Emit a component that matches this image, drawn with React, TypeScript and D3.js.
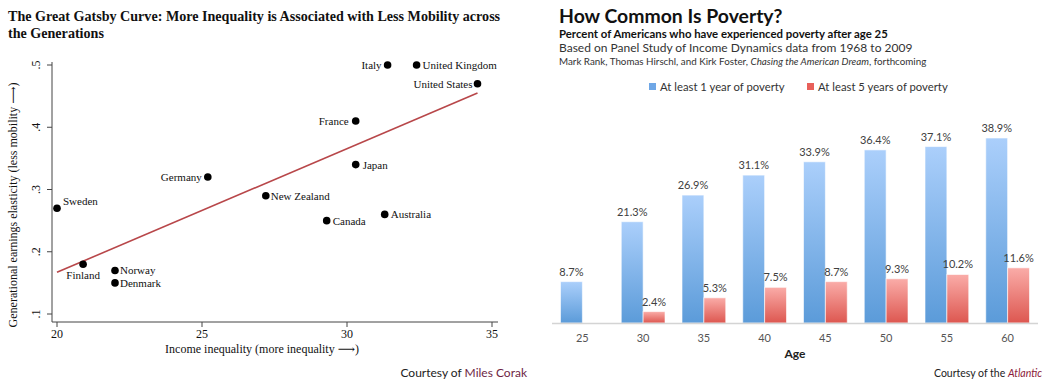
import React from "react";
import * as d3 from "d3";

// left: Great Gatsby curve
const countries = ["Sweden", "Finland", "Norway", "Denmark", "Germany", "New Zealand", "Canada", "Australia", "Japan", "France", "Italy", "United Kingdom", "United States"];
const inequality = [20.0, 20.9, 22.0, 22.0, 25.2, 27.2, 29.3, 31.3, 30.3, 30.3, 31.4, 32.4, 34.5];
const elasticity = [0.27, 0.18, 0.17, 0.15, 0.32, 0.29, 0.25, 0.26, 0.34, 0.41, 0.50, 0.50, 0.47];
const fitX = [20, 34.5];
const fitY = [0.167, 0.455];
const xTicks = [20, 25, 30, 35];
const yTicks = [0.1, 0.2, 0.3, 0.4, 0.5];

// right: poverty by age
const ages = ["25", "30", "35", "40", "45", "50", "55", "60"];
const oneYear = [8.7, 21.3, 26.9, 31.1, 33.9, 36.4, 37.1, 38.9];
const fiveYears = [null, 2.4, 5.3, 7.5, 8.7, 9.3, 10.2, 11.6];
const seriesNames = ["At least 1 year of poverty", "At least 5 years of poverty"];

// label placement per country: [dx, dy, anchor]
const labelPos: Record<string, [number, number, string]> = {
  Sweden: [6, -3, "start"],
  Finland: [0, 15, "middle"],
  Norway: [5, 4, "start"],
  Denmark: [5, 4, "start"],
  Germany: [-6, 4, "end"],
  "New Zealand": [5, 4, "start"],
  Canada: [6, 4, "start"],
  Australia: [6, 4, "start"],
  Japan: [7, 4, "start"],
  France: [-7, 4, "end"],
  Italy: [-6, 4, "end"],
  "United Kingdom": [6, 4, "start"],
  "United States": [-5, 4, "end"],
};

const serif = "'Liberation Serif', 'DejaVu Serif', serif";
const sans = "Lato, 'Open Sans', sans-serif";

function Gatsby() {
  const x = d3.scaleLinear().domain([20, 35]).range([57, 492]);
  const y = d3.scaleLinear().domain([0.1, 0.5]).range([314, 65]);
  const axisX = 52, axisY = 322;
  const fmt = (v: number) => d3.format(".1f")(v).replace(/^0/, "");
  const line = d3.line<number>().x((d) => x(d)).y((d, i) => y(fitY[i]));

  return (
    <g fontFamily={serif} fill="#111">
      <text x={8} y={21} fontSize={14.1} fontWeight="bold">
        The Great Gatsby Curve: More Inequality is Associated with Less Mobility across
      </text>
      <text x={8} y={38} fontSize={14.1} fontWeight="bold">the Generations</text>

      <line x1={axisX} x2={axisX} y1={62} y2={axisY} stroke="#444" />
      <line x1={axisX} x2={498} y1={axisY} y2={axisY} stroke="#444" />
      {yTicks.map((t) => (
        <g key={t}>
          <line x1={axisX - 5} x2={axisX} y1={y(t)} y2={y(t)} stroke="#444" />
          <text transform={`translate(${axisX - 12},${y(t)}) rotate(-90)`} textAnchor="middle" fontSize={12}>{fmt(t)}</text>
        </g>
      ))}
      {xTicks.map((t) => (
        <g key={t}>
          <line x1={x(t)} x2={x(t)} y1={axisY} y2={axisY + 5} stroke="#444" />
          <text x={x(t)} y={axisY + 16} textAnchor="middle" fontSize={12}>{t}</text>
        </g>
      ))}
      <text x={262} y={353} textAnchor="middle" fontSize={12}>Income inequality (more inequality ⟶)</text>
      <text transform="translate(17,205) rotate(-90)" textAnchor="middle" fontSize={12}>
        Generational earnings elasticity (less mobility ⟶)
      </text>

      <path d={line(fitX) || ""} fill="none" stroke="#b8474a" strokeWidth={1.6} />

      {countries.map((c, i) => {
        const [dx, dy, anchor] = labelPos[c];
        return (
          <g key={c}>
            <circle cx={x(inequality[i])} cy={y(elasticity[i])} r={3.8} fill="#000" />
            <text x={x(inequality[i]) + dx} y={y(elasticity[i]) + dy} textAnchor={anchor} fontSize={11}>{c}</text>
          </g>
        );
      })}

      <text x={527} y={377} textAnchor="end" fontFamily={sans} fontSize={12} fill="#222">
        Courtesy of <tspan fill="#6e1f45">Miles Corak</tspan>
      </text>
    </g>
  );
}

function Poverty() {
  const x0 = d3.scaleBand().domain(ages).range([552, 1038]).paddingInner(0.28).paddingOuter(0.14);
  const x1 = d3.scaleBand().domain(["one", "five"]).range([0, x0.bandwidth()]);
  const y = d3.scaleLinear().domain([0, 45]).range([323, 109]);
  const series = [
    { key: "one", values: oneYear, grad: "url(#gBlue)", swatch: "#6fa7e6" },
    { key: "five", values: fiveYears, grad: "url(#gRed)", swatch: "#e8605a" },
  ];
  const legendX = [649, 807];

  return (
    <g fontFamily={sans}>
      <defs>
        <linearGradient id="gBlue" x1="0" x2="0" y1="0" y2="1">
          <stop offset="0" stopColor="#abcffb" />
          <stop offset="1" stopColor="#5b9bd9" />
        </linearGradient>
        <linearGradient id="gRed" x1="0" x2="0" y1="0" y2="1">
          <stop offset="0" stopColor="#faaca8" />
          <stop offset="1" stopColor="#dd5750" />
        </linearGradient>
      </defs>

      <text x={559} y={23} fontSize={19.4} fontWeight="bold" fill="#111">How Common Is Poverty?</text>
      <text x={559} y={38} fontSize={11.4} fontWeight="bold" fill="#111">Percent of Americans who have experienced poverty after age 25</text>
      <text x={559} y={52} fontSize={12} fill="#333">Based on Panel Study of Income Dynamics data from 1968 to 2009</text>
      <text x={559} y={65} fontSize={9.8} fill="#333">
        Mark Rank, Thomas Hirschl, and Kirk Foster, <tspan fontStyle="italic">Chasing the American Dream</tspan>, forthcoming
      </text>

      {seriesNames.map((n, i) => (
        <g key={n}>
          <rect x={legendX[i]} y={83} width={7} height={7} fill={series[i].swatch} />
          <text x={legendX[i] + 11} y={91} fontSize={11.3} fill="#333">{n}</text>
        </g>
      ))}

      {series.map((s) =>
        s.values.map((v, i) =>
          v == null ? null : (
            <g key={s.key + i}>
              <rect
                x={(x0(ages[i]) || 0) + (x1(s.key) || 0)}
                y={y(v)}
                width={x1.bandwidth()}
                height={y(0) - y(v)}
                fill={s.grad}
                stroke="#ffffff"
                strokeOpacity={0.6}
              />
              <text
                x={(x0(ages[i]) || 0) + (x1(s.key) || 0) + x1.bandwidth() / 2}
                y={y(v) - 6}
                textAnchor="middle"
                fontSize={11}
                fill="#404040"
              >
                {v.toFixed(1)}%
              </text>
            </g>
          )
        )
      )}

      <line x1={552} x2={1038} y1={323.5} y2={323.5} stroke="#d4d4d4" strokeWidth={1.5} />
      {ages.map((a) => (
        <text key={a} x={(x0(a) || 0) + x0.bandwidth() / 2} y={342} textAnchor="middle" fontSize={11} fill="#555">{a}</text>
      ))}
      <text x={795} y={358} textAnchor="middle" fontSize={12} fontWeight="bold" fill="#222">Age</text>

      <text x={1042} y={377} textAnchor="end" fontSize={10.5} fill="#222">
        Courtesy of the <tspan fontStyle="italic" fill="#8b1a3a">Atlantic</tspan>
      </text>
    </g>
  );
}

export default function App() {
  return (
    <svg width={1048} height={384} style={{ position: "absolute", left: 0, top: 0, background: "#fff" }}>
      <rect width={1048} height={384} fill="#fff" />
      <Gatsby />
      <Poverty />
    </svg>
  );
}
